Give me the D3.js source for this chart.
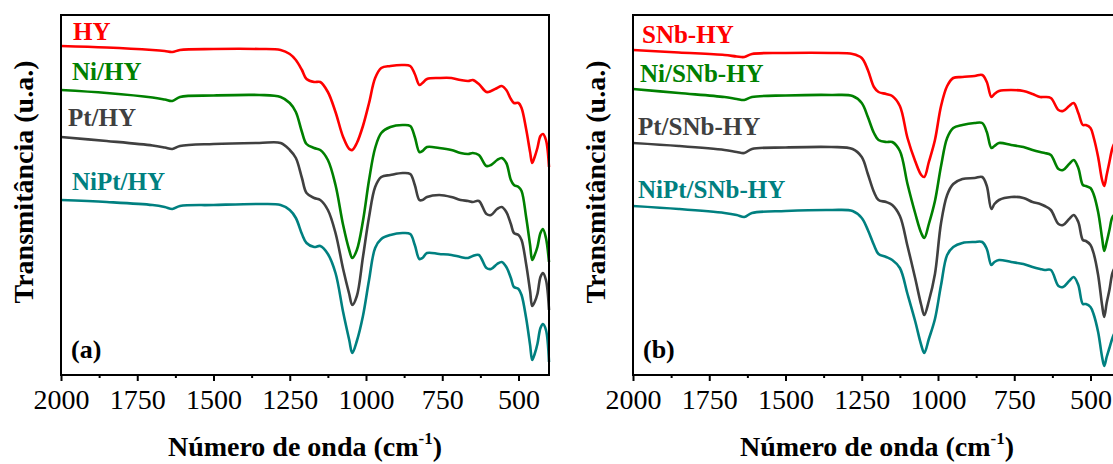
<!DOCTYPE html>
<html>
<head>
<meta charset="utf-8">
<script src="https://cdn.jsdelivr.net/npm/d3@7"></script>
<style>
  body { margin: 0; background: #fff; }
  svg { display: block; }
  text { font-family: 'Liberation Serif', 'Times New Roman', serif; }
</style>
</head>
<body>
<svg id="chart" width="1113" height="464"></svg>
<script>
// FTIR spectra (stacked, arbitrary transmittance units)
const wavenumber = [2000,1850,1700,1660,1635,1610,1500,1350,1280,1250,1230,1210,1195,1170,1150,1125,1100,1075,1055,1045,1030,1010,990,970,950,920,880,855,840,825,815,800,760,720,690,665,650,630,605,590,570,555,540,525,515,500,490,475,462,455,447,438,428,420,410,400];

// panel (a)
const hy      = [329,327.5,325,324,323,325,326,326,325,321,315,305,296,293,293,283,263,238,226,225,232,249,272,297,307,309,310,309,301,290,292,296,297,297,295,294,295,291,283,284,287,289,285,276,272,272,267,246,223,212,218,227,239,241,235,208];
const niHy    = [285,282,277.5,275.5,274,278,279.5,280,278,272,263,243,231,227,225,215,190,150,125,117,125,154,195,227,242,248,250,249,238,223,224,228,227,225,222,221,222,220,209,210,215,217,212,195,190,188,184,158,130,115,120,128,142,146,137,113];
const ptHy    = [238,234,229.5,227.5,226,229,231,232,232,225,217,197,182,177,175,165,142,106,81,70,79,118,158,188,198,200,202,201,190,175,175,178,180,178,175,174,173,174,161,160,166,168,163,151,142,140,135,111,84,69,73,81,98,102,95,65];
const niptHy  = [175,173,170,168,166,169,170,171,170,165,157,141,132,128,129,121,102,63,35,22,34,59,95,127,136,140,142,141,130,116,117,122,121,120,118,117,119,120,107,106,111,113,108,97,88,86,80,57,30,15,21,31,47,51,45,13];

// panel (b)
const snbHy     = [325,322.5,320,318.5,318,321,322,322,321,317,305,288,283,281,279,269,237,214,200,198,213,235,269,289,297,298,299,300,293,278,281,284,285,284,281,278,278,277,265,264,269,272,262,250,250,247,238,218,195,189,200,213,227,232,225,200];
const niSnbHy   = [286,282,278,276,275,278,279.5,280,279,272,258,242,235,233,233,224,191,162,142,137,151,174,209,237,247,250,252,252,243,227,229,232,230,228,225,223,222,220,206,205,211,215,207,190,189,187,181,163,137,124,133,145,158,160,150,125];
const ptSnbHy   = [232,229,225,223,222,226,227.5,228,226,218,201,183,175,173,170,159,129,97,70,60,74,101,152,180,191,196,197,198,189,166,171,175,178,177,173,171,169,165,151,150,156,160,153,135,134,130,122,100,70,58,72,85,102,107,97,75];
const niptSnbHy = [169,166,162,160,158,162,164,165,164,157,145,130,121,118,115,107,81,54,30,22,36,56,90,120,128,132,133,133,126,110,113,115,113,111,108,106,105,105,89,88,94,98,90,71,71,68,61,43,18,9,18,27,37,42,32,10];

const majorTicks = [2000,1750,1500,1250,1000,750,500];
const minorTicks = [1875,1625,1375,1125,875,625];

const colors = { red: "#ff0000", green: "#008000", gray: "#404040", teal: "#008080" };

const W = 488, H = 360;
const x = d3.scaleLinear().domain([2000, 400]).range([0, W]);
const y = d3.scaleLinear().domain([0, 360]).range([H, 0]);

const line = d3.line()
  .x(d => x(d[0]))
  .y(d => y(d[1]))
  .curve(d3.curveCatmullRom.alpha(0.5));

const panels = [
  {
    tag: "(a)", left: 61, top: 15,
    series: [
      { name: "HY",      values: hy,     color: colors.red,   lx: 12, ly: 25 },
      { name: "Ni/HY",   values: niHy,   color: colors.green, lx: 11, ly: 65 },
      { name: "Pt/HY",   values: ptHy,   color: colors.gray,  lx: 7,  ly: 111 },
      { name: "NiPt/HY", values: niptHy, color: colors.teal,  lx: 11, ly: 175 }
    ]
  },
  {
    tag: "(b)", left: 633, top: 15,
    series: [
      { name: "SNb-HY",      values: snbHy,     color: colors.red,   lx: 9, ly: 28 },
      { name: "Ni/SNb-HY",   values: niSnbHy,   color: colors.green, lx: 7, ly: 67 },
      { name: "Pt/SNb-HY",   values: ptSnbHy,   color: colors.gray,  lx: 5, ly: 120 },
      { name: "NiPt/SNb-HY", values: niptSnbHy, color: colors.teal,  lx: 5, ly: 183 }
    ]
  }
];

const svg = d3.select("#chart");

panels.forEach(p => {
  const g = svg.append("g").attr("transform", `translate(${p.left},${p.top})`);

  // spectra
  p.series.forEach(s => {
    const pts = wavenumber.map((w, i) => [w, s.values[i]]);
    g.append("path")
      .attr("d", line(pts))
      .attr("fill", "none")
      .attr("stroke", s.color)
      .attr("stroke-width", 2.6)
      .attr("stroke-linejoin", "round");
    g.append("text")
      .attr("x", s.lx).attr("y", s.ly)
      .attr("fill", s.color)
      .attr("font-size", 25).attr("font-weight", "bold")
      .text(s.name);
  });

  // frame
  g.append("rect")
    .attr("x", 0).attr("y", 0).attr("width", W).attr("height", H)
    .attr("fill", "none").attr("stroke", "#000").attr("stroke-width", 2);

  // bottom axis: major ticks with labels, minor ticks without
  const ax = g.append("g").attr("transform", `translate(0,${H})`)
    .call(d3.axisBottom(x).tickValues(majorTicks).tickSize(6).tickPadding(8).tickFormat(d3.format("d")));
  ax.select(".domain").remove();
  ax.selectAll("line").attr("stroke", "#000").attr("stroke-width", 2);
  ax.selectAll("text").attr("font-size", 28).attr("fill", "#000")
    .style("font-family", "'Liberation Serif','Times New Roman',serif");

  const mx = g.append("g").attr("transform", `translate(0,${H})`)
    .call(d3.axisBottom(x).tickValues(minorTicks).tickSize(3).tickFormat(""));
  mx.select(".domain").remove();
  mx.selectAll("line").attr("stroke", "#000").attr("stroke-width", 2);

  // panel tag
  g.append("text")
    .attr("x", 10).attr("y", 343)
    .attr("font-size", 26).attr("font-weight", "bold").attr("fill", "#000")
    .text(p.tag);

  // x title with superscript
  const xt = g.append("text")
    .attr("x", W / 2).attr("y", 441)
    .attr("text-anchor", "middle")
    .attr("font-size", 28).attr("font-weight", "bold").attr("fill", "#000");
  xt.append("tspan").text("Número de onda (cm");
  xt.append("tspan").attr("font-size", 17).attr("dy", -12).text("-1");
  xt.append("tspan").attr("dy", 12).text(")");

  // y title
  g.append("text")
    .attr("transform", `translate(-28,${167}) rotate(-90)`)
    .attr("text-anchor", "middle")
    .attr("font-size", 28).attr("font-weight", "bold").attr("fill", "#000")
    .text("Transmitância (u.a.)");
});
</script>
</body>
</html>
